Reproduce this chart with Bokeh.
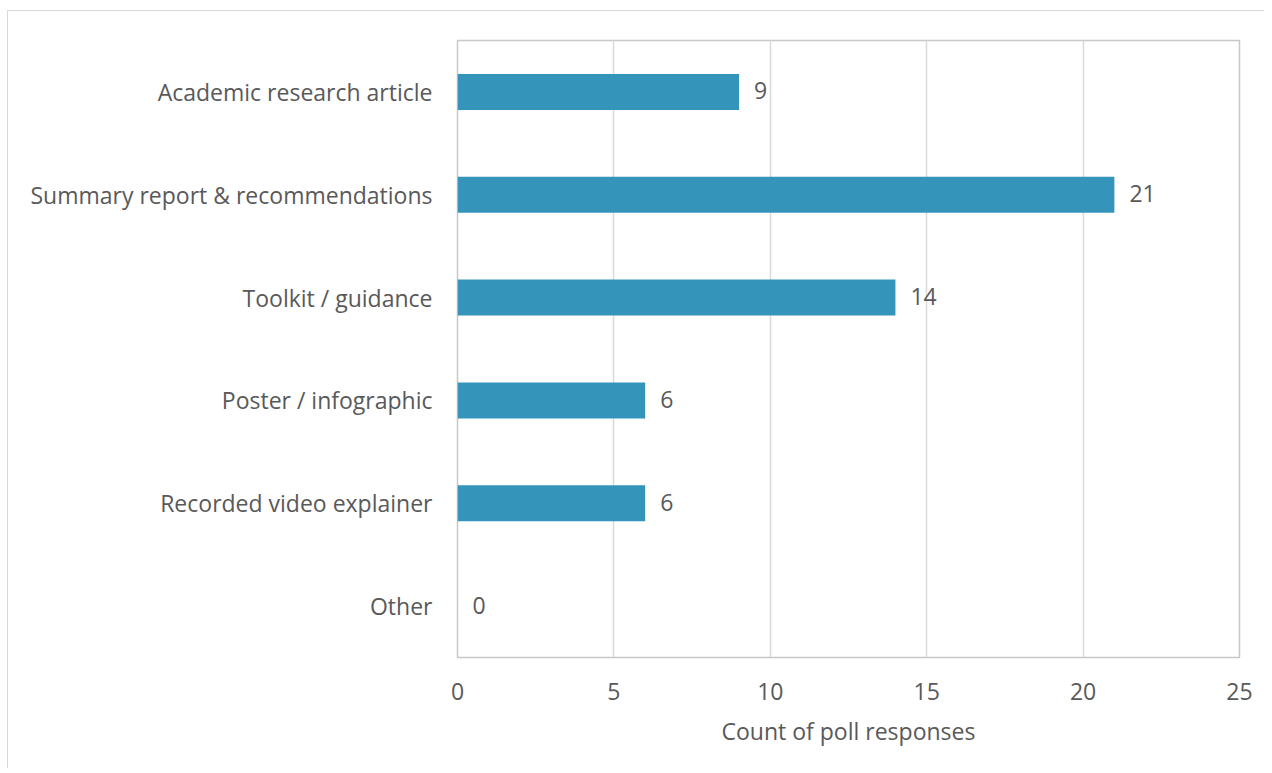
from bokeh.plotting import figure
from bokeh.models import ColumnDataSource, LabelSet, FixedTicker
from bokeh.embed import file_html
from bokeh.resources import INLINE
from bokeh.core.properties import value

categories = ["Academic research article", "Summary report & recommendations",
              "Toolkit / guidance", "Poster / infographic",
              "Recorded video explainer", "Other"]
counts = [9, 21, 14, 6, 6, 0]
x_ticks = [0, 5, 10, 15, 20, 25]

FONT = "Open Sans"
TXT = "#595959"
FS = "23px"

y_range = list(reversed(categories))
src = ColumnDataSource(dict(cat=categories, n=counts, lab=[str(c) for c in counts]))

p = figure(width=1257, height=758, y_range=y_range, x_range=(0, 25),
           output_backend="svg", toolbar_location=None,
           min_border_left=449, min_border_right=26, min_border_top=29,
           min_border_bottom=112)
p.styles = {"border-top": "1px solid #d9d9d9", "border-left": "1px solid #d9d9d9",
            "margin-top": "10px", "margin-left": "7px"}
p.y_range.range_padding = 0

p.hbar(y="cat", right="n", height=0.35, source=src, fill_color="#3494BA",
       line_color=None)

labels = LabelSet(x="n", y="cat", text="lab", source=src, x_offset=15, y_offset=1,
                  text_align="left", text_baseline="middle",
                  text_font=value(FONT), text_font_size=FS, text_color=TXT)
p.add_layout(labels)

p.outline_line_color = "#c8c8c8"
p.outline_line_width = 1.5

p.xaxis.ticker = FixedTicker(ticks=x_ticks)
p.xaxis.axis_line_color = None
p.xaxis.major_tick_line_color = None
p.xaxis.minor_tick_line_color = None
p.xaxis.major_label_standoff = 19
p.xaxis.major_label_text_font = FONT
p.xaxis.major_label_text_font_size = FS
p.xaxis.major_label_text_color = TXT
p.xaxis.axis_label = "Count of poll responses"
p.xaxis.axis_label_text_font = FONT
p.xaxis.axis_label_text_font_size = FS
p.xaxis.axis_label_text_font_style = "normal"
p.xaxis.axis_label_text_color = TXT
p.xaxis.axis_label_standoff = 12

p.yaxis.axis_line_color = None
p.yaxis.major_tick_line_color = None
p.yaxis.minor_tick_line_color = None
p.yaxis.major_label_standoff = 19
p.yaxis.major_label_text_font = FONT
p.yaxis.major_label_text_font_size = FS
p.yaxis.major_label_text_color = TXT

p.xgrid.grid_line_color = "#d9d9d9"
p.xgrid.grid_line_width = 1.5
p.ygrid.grid_line_color = None

open("out.html", "w").write(file_html(p, INLINE))
